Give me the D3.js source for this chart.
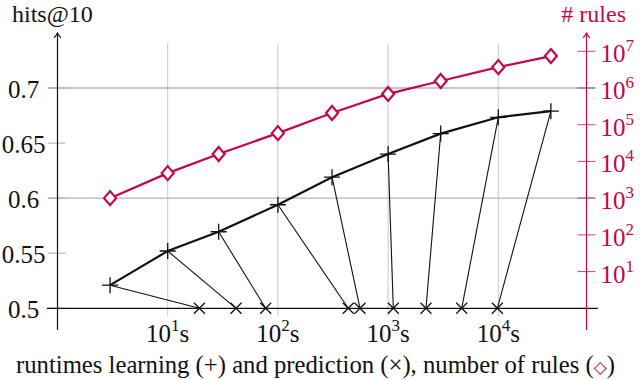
<!DOCTYPE html>
<html>
<head>
<meta charset="utf-8">
<script src="https://cdn.jsdelivr.net/npm/d3@7"></script>
<style>
  body { margin: 0; background: #fff; }
  text { font-family: "Liberation Serif", "DejaVu Serif", serif; }
</style>
</head>
<body>
<script>
// learning runtime (s) for each setting, with hits@10 reached
let learnTime = [3, 10, 29, 100, 310, 1000, 3000, 10000, 30000];
let hits = [0.521, 0.552, 0.5695, 0.594, 0.619, 0.640, 0.6586, 0.6734, 0.679];
// prediction runtime (s) for the same settings
let predTime = [19.4, 41.7, 77.5, 435, 556, 1115, 2207, 4656, 9800];
// number of rules learned
let numRules = [1000, 4800, 16000, 59000, 209000, 690000, 1550000, 3700000, 7400000];

let hitsTicks = [0.5, 0.55, 0.6, 0.65, 0.7];
let hitsGrid = [0.6, 0.7];
let timeTicks = [10, 100, 1000, 10000];
let rulesTicks = [10, 100, 1000, 10000, 100000, 1000000, 10000000];
let rulesGrid = [1000, 1000000];

let canvasW = 640;
let canvasH = 380;
let red = "#c4064c";

let svg = d3.select("body").append("svg")
  .attr("width", canvasW)
  .attr("height", canvasH);

let x = d3.scaleLog().domain([1, 1e4]).range([57.5, 498.3]);
let y = d3.scaleLinear().domain([0.5, 0.7]).range([308.3, 88]);
let yR = d3.scaleLog().domain([1, 1e6]).range([308.3, 88]);

let gridL = 48, gridR = 595, gridT = 43;
let axTop = 33, axBottom = 330;
let xAxisL = 47, xAxisR = 598;
let rightX = 586.5;

// grid
svg.selectAll(".vgrid").data(timeTicks).join("line")
  .attr("x1", d => x(d)).attr("x2", d => x(d))
  .attr("y1", gridT).attr("y2", 316)
  .attr("stroke", "#c8c8c8").attr("stroke-width", 1);

svg.selectAll(".hgrid").data(hitsGrid).join("line")
  .attr("x1", gridL).attr("x2", gridR)
  .attr("y1", d => y(d)).attr("y2", d => y(d))
  .attr("stroke", "#b4b4b4").attr("stroke-width", 1.3);

// left axis
let gl = svg.append("g")
  .attr("transform", `translate(${x(1)},0)`)
  .call(d3.axisLeft(y).tickValues(hitsTicks).tickSize(0).tickFormat(d3.format("")));
gl.select(".domain").remove();
gl.selectAll(".tick line").remove();
gl.selectAll(".tick text")
  .attr("x", -34).attr("dy", "0.36em")
  .attr("text-anchor", "middle")
  .attr("font-size", 25).attr("fill", "#111");

svg.selectAll(".ltick").data(hitsTicks).join("line")
  .attr("x1", gridL).attr("x2", x(1) + 8)
  .attr("y1", d => y(d)).attr("y2", d => y(d))
  .attr("stroke", "#aaa").attr("stroke-width", 1);

function arrow(px, py, color) {
  svg.append("line").attr("x1", px).attr("x2", px).attr("y1", axBottom).attr("y2", py)
    .attr("stroke", color).attr("stroke-width", 1.2);
  svg.append("path")
    .attr("d", `M${px - 3.5},${py + 5} Q${px - 1},${py + 2} ${px},${py} Q${px + 1},${py + 2} ${px + 3.5},${py + 5}`)
    .attr("fill", "none").attr("stroke", color).attr("stroke-width", 1.1);
}
arrow(x(1), axTop, "#111");

// x axis line at 0.5
svg.append("line")
  .attr("x1", xAxisL).attr("x2", xAxisR)
  .attr("y1", y(0.5)).attr("y2", y(0.5))
  .attr("stroke", "#111").attr("stroke-width", 1.3);

// x tick labels 10^n s
let xl = svg.selectAll(".xlab").data(timeTicks).join("text")
  .attr("x", d => x(d)).attr("y", 342)
  .attr("text-anchor", "middle")
  .attr("font-size", 25).attr("fill", "#111");
xl.append("tspan").text("10");
xl.append("tspan").attr("font-size", 17).attr("dy", -11).text(d => Math.round(Math.log10(d)));
xl.append("tspan").attr("dy", 11).text("s");

// right axis
svg.selectAll(".rtick").data(rulesTicks).join("line")
  .attr("x1", rightX - 9).attr("x2", rightX + 9)
  .attr("y1", d => yR(d)).attr("y2", d => yR(d))
  .attr("stroke", red).attr("stroke-opacity", 0.75).attr("stroke-width", 1);
svg.selectAll(".rgrid").data(rulesGrid).join("line")
  .attr("x1", rightX - 9).attr("x2", gridR)
  .attr("y1", d => yR(d)).attr("y2", d => yR(d))
  .attr("stroke", "#999").attr("stroke-width", 1.3);
arrow(rightX, axTop, red);

let rl = svg.selectAll(".rlab").data(rulesTicks).join("text")
  .attr("x", rightX + 14).attr("y", d => yR(d) + 11)
  .attr("font-size", 25).attr("fill", red);
rl.append("tspan").text("10");
rl.append("tspan").attr("font-size", 17).attr("dy", -11).text(d => Math.round(Math.log10(d)));

// learning -> prediction connectors
svg.selectAll(".conn").data(learnTime).join("line")
  .attr("x1", (d, i) => x(d)).attr("y1", (d, i) => y(hits[i]))
  .attr("x2", (d, i) => x(predTime[i])).attr("y2", y(0.5))
  .attr("stroke", "#111").attr("stroke-width", 1.1);

// prediction markers (x)
svg.selectAll(".xmark").data(predTime).join("path")
  .attr("d", d => {
    let cx = x(d), cy = y(0.5), s = 5.5;
    return `M${cx - s},${cy - s}L${cx + s},${cy + s}M${cx - s},${cy + s}L${cx + s},${cy - s}`;
  })
  .attr("stroke", "#111").attr("stroke-width", 1.3).attr("fill", "none");

// hits line with + markers
let line = d3.line().x((d, i) => x(learnTime[i])).y(d => y(d));
svg.append("path").datum(hits)
  .attr("d", line)
  .attr("fill", "none").attr("stroke", "#111").attr("stroke-width", 2.2);

svg.selectAll(".plus").data(hits).join("path")
  .attr("d", (d, i) => {
    let cx = x(learnTime[i]), cy = y(d), s = 8;
    return `M${cx - s},${cy}L${cx + s},${cy}M${cx},${cy - s}L${cx},${cy + s}`;
  })
  .attr("stroke", "#111").attr("stroke-width", 1.3).attr("fill", "none");

// number of rules line with diamonds
let rline = d3.line().x((d, i) => x(learnTime[i])).y(d => yR(d));
svg.append("path").datum(numRules)
  .attr("d", rline)
  .attr("fill", "none").attr("stroke", red).attr("stroke-width", 2.2);

svg.selectAll(".dia").data(numRules).join("path")
  .attr("d", (d, i) => {
    let cx = x(learnTime[i]), cy = yR(d), w = 6, h = 7;
    return `M${cx},${cy - h}L${cx + w},${cy}L${cx},${cy + h}L${cx - w},${cy}Z`;
  })
  .attr("stroke", red).attr("stroke-width", 2.2).attr("fill", "#fff");

// labels
svg.append("text").attr("x", 12).attr("y", 22)
  .attr("font-size", 24).attr("fill", "#111").text("hits@10");

svg.append("text").attr("x", 626).attr("y", 22)
  .attr("text-anchor", "end")
  .attr("font-size", 24).attr("fill", red).text("# rules");

let xt = svg.append("text").attr("x", 16).attr("y", 373)
  .attr("font-size", 24.7).attr("fill", "#111");
xt.append("tspan").text("runtimes learning (+) and prediction (\u00d7), number of rules (");
xt.append("tspan").attr("fill", red).attr("font-family", "DejaVu Sans").attr("font-size", 17).text("\u25c7");
xt.append("tspan").text(")");
</script>
</body>
</html>
